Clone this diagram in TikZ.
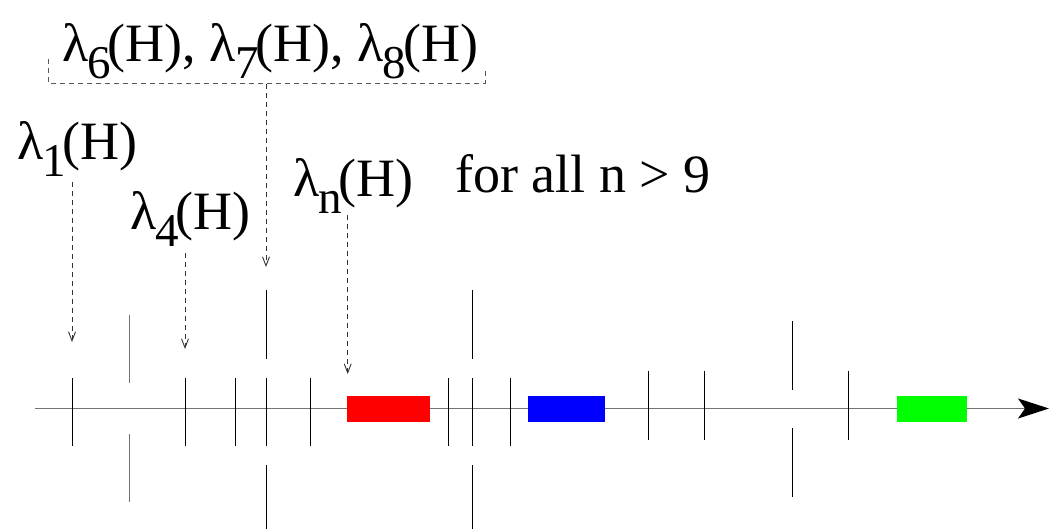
\documentclass[tikz,border=0pt]{standalone}
\usepackage{fontspec}
\setmainfont{Liberation Serif}
\usetikzlibrary{arrows.meta}
\newcommand{\lamsub}[1]{λ\kern-1pt\raisebox{-0.31em}{\fontsize{47}{50}\selectfont #1}\kern-3pt}
\tikzset{
  lbl/.style={inner sep=0pt, anchor=base west, font=\fontsize{54}{60}\selectfont},
  axisline/.style={draw=black!55, line width=1.2pt},
  tick/.style={draw=black, line width=1pt},
  gtick/.style={draw=black!55, line width=1pt},
  dasharrow/.style={draw=black!80, line width=0.9pt, dash pattern=on 5pt off 4pt,
    -{Straight Barb[length=9pt,width=7pt,line width=0.9pt]}},
  bracket/.style={draw=black!65, line width=0.9pt, dash pattern=on 5pt off 4pt},
}
\begin{document}
\begin{tikzpicture}[x=1pt,y=-1pt]
\useasboundingbox (0,0) rectangle (1049,529);
% axis
\coordinate (ax0) at (35,408.5);
\coordinate (ax1) at (1049,408.5);
\draw[axisline, -{Stealth[length=31pt,width=20pt,inset=7pt,color=black]}] (ax0) -- (ax1);
% short ticks (centred on axis)
\foreach \x in {72,185,235,266,310,448,472,510}
  \draw[tick] (\x,378) -- (\x,446);
\foreach \x in {648,704,848}
  \draw[tick] (\x,371) -- (\x,440);
% gapped ticks
\draw[gtick] (129,315) -- (129,383);
\draw[gtick] (129,434) -- (129,502);
\foreach \x in {266,472}{
  \draw[tick] (\x,290) -- (\x,359);
  \draw[tick] (\x,465) -- (\x,529);
}
\draw[tick] (792,321) -- (792,390);
\draw[tick] (792,428) -- (792,497);
% coloured bars
\fill[red]   (347,395.7) rectangle (430,422.3);
\fill[blue]  (528,395.7) rectangle (605,422.3);
\fill[green] (897,395.7) rectangle (967,422.3);
% labels
\node[lbl] (top) at (62,62) {\lamsub{6}(H), \lamsub{7}(H), \lamsub{8}(H)};
\node[lbl] (l1) at (17,160) {\lamsub{1}(H)};
\node[lbl] (l4) at (130,230) {\lamsub{4}(H)};
\node[lbl] (ln) at (293,197) {\lamsub{n}(H)};
\node[lbl] (fa) at (455,193) {for all n > 9};
% bracket
\coordinate (bl) at (48,59);
\coordinate (blc) at (48,83);
\coordinate (brc) at (485,83);
\coordinate (br) at (485,71);
\draw[bracket] (bl) -- (blc) -- (brc) -- (br);
% arrow targets
\coordinate (s1) at (72,182);   \coordinate (t1) at (72,342);
\coordinate (s4) at (185,253);  \coordinate (t4) at (185,349);
\coordinate (sn) at (347.7,215);\coordinate (tn) at (347.7,374);
\coordinate (sb) at (266,84);   \coordinate (tb) at (266,267);
\draw[dasharrow] (s1) -- (t1);
\draw[dasharrow] (s4) -- (t4);
\draw[dasharrow] (sn) -- (tn);
\draw[dasharrow] (sb) -- (tb);
\end{tikzpicture}
\end{document}
